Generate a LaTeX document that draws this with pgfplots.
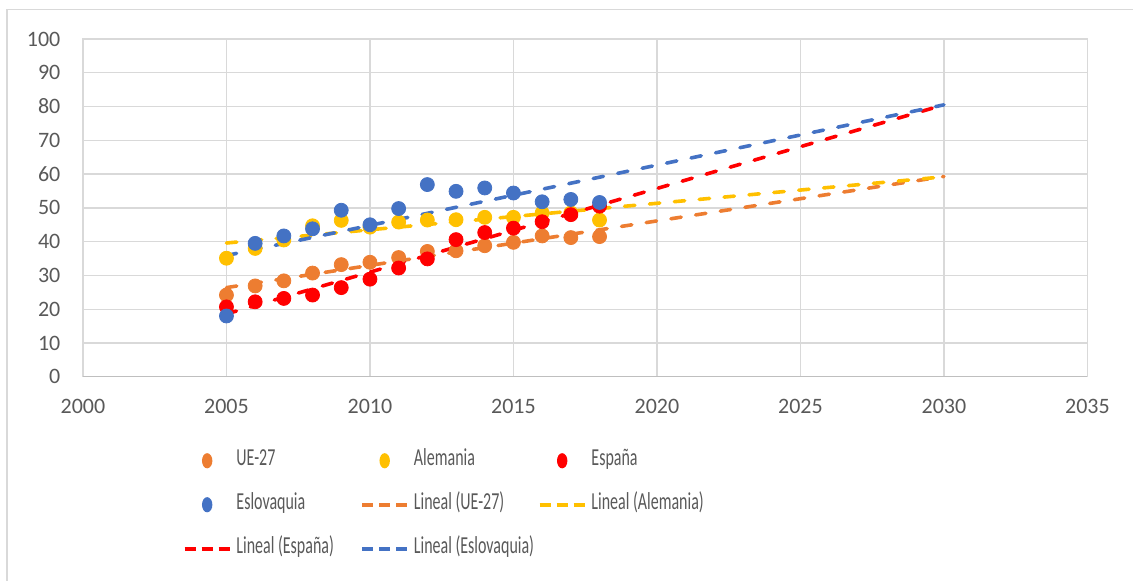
\documentclass[border=0pt]{standalone}
\usepackage{pgfplots}
\pgfplotsset{compat=1.18}
\usepackage{pgfplotstable}
\usepackage{fontspec}
\usepackage{graphicx}
\setmainfont{Carlito}
\definecolor{cUE}{HTML}{ED7D31}
\definecolor{cDE}{HTML}{FFC000}
\definecolor{cES}{HTML}{FF0000}
\definecolor{cSK}{HTML}{4472C4}
\definecolor{gridgray}{HTML}{D9D9D9}
\definecolor{axisgray}{HTML}{BFBFBF}
\definecolor{textgray}{HTML}{595959}
\newcommand\lgtext[1]{\makebox[62pt][l]{\scalebox{0.655}[1]{#1}}}

\pgfplotstableread{
year ue de es sk
2005 24.2 35.1 20.7 18.0
2006 26.9 38.0 22.2 39.5
2007 28.4 40.5 23.2 41.7
2008 30.7 44.7 24.2 43.8
2009 33.2 46.3 26.4 49.3
2010 33.9 44.3 28.9 45.0
2011 35.3 45.8 32.2 49.8
2012 37.1 46.4 34.9 56.9
2013 37.3 46.5 40.6 54.9
2014 38.8 47.2 42.7 55.9
2015 39.8 47.2 44.0 54.4
2016 41.7 48.5 45.9 51.8
2017 41.2 48.5 48.0 52.5
2018 41.5 46.4 50.5 51.6
}\datatable

\pgfplotsset{
  markimg/.style={legend image code/.code={
      \path[draw=none,fill=none] (0pt,0pt) -- (22.5pt,0pt);
      \fill[##1, draw=none] (11.25pt,0pt) ellipse (2.6pt and 3.8pt);}},
  lineimg/.style={legend image code/.code={
      \draw[##1, line width=1.8pt, line cap=butt, dash pattern=on 5.5pt off 3pt] (0pt,0pt) -- (22.5pt,0pt);}},
  trend/.style={line width=1.8pt, line cap=round, dash pattern=on 5.2pt off 7.3pt},
}

\begin{document}
\begin{tikzpicture}
\begin{axis}[
  scale only axis,
  width=502.5pt, height=169pt,
  xmin=2000, xmax=2035, ymin=0, ymax=100,
  xtick={2000,2005,...,2035},
  ytick={0,10,...,100},
  grid=major,
  major grid style={line width=0.7pt, draw=gridgray},
  axis line style={draw=gridgray, line width=0.7pt},
  major tick length=0pt,
  /pgf/number format/1000 sep={},
  /pgf/number format/assume math mode=true,
  tick label style={font=\fontsize{11}{13}\selectfont, text=textgray},
  yticklabel style={xshift=-7.8pt},
  xticklabel style={yshift=-7.8pt},
  legend columns=3,
  legend cell align=left,
  legend style={draw=none, fill=none, inner sep=0pt, outer sep=0pt,
    at={(0.0995,-0.216)}, anchor=north west,
    row sep=11pt,
    nodes={inner sep=0pt, text height=8pt, text depth=3pt,
      font=\fontsize{12.2}{14}\selectfont, text=textgray},
    /tikz/every odd column/.append style={column sep=2.5pt}},
]
\addplot[only marks, mark=*, mark size=3.5pt, color=cUE, markimg] table[x=year,y=ue] {\datatable};
\addlegendentry{\lgtext{UE-27}}
\addplot[only marks, mark=*, mark size=3.5pt, color=cDE, markimg] table[x=year,y=de] {\datatable};
\addlegendentry{\lgtext{Alemania}}
\addplot[only marks, mark=*, mark size=3.5pt, color=cES, markimg] table[x=year,y=es] {\datatable};
\addlegendentry{\lgtext{España}}
\addplot[only marks, mark=*, mark size=3.5pt, color=cSK, markimg] table[x=year,y=sk] {\datatable};
\addlegendentry{\lgtext{Eslovaquia}}
\addplot[cUE, trend, lineimg] coordinates {(2005,26.4) (2030,59.3)};
\addlegendentry{\lgtext{Lineal (UE-27)}}
\addplot[cDE, trend, lineimg] coordinates {(2005,39.6) (2030,59.2)};
\addlegendentry{\lgtext{Lineal (Alemania)}}
\addplot[cES, trend, lineimg] coordinates {(2005,18.6) (2030,80.5)};
\addlegendentry{\lgtext{Lineal (España)}}
\addplot[cSK, trend, lineimg] coordinates {(2005,35.9) (2030,80.5)};
\addlegendentry{\lgtext{Lineal (Eslovaquia)}}
\draw[axisgray, line width=0.9pt] (axis cs:2000,0) -- (axis cs:2035,0);
\end{axis}
\draw[gridgray, line width=0.6pt] (-38pt,-102pt) -- (-38pt,183.75pt) -- (525.5pt,183.75pt);
\path[use as bounding box] (-41.5pt,-102pt) rectangle (525.5pt,188.5pt);
\end{tikzpicture}
\end{document}
